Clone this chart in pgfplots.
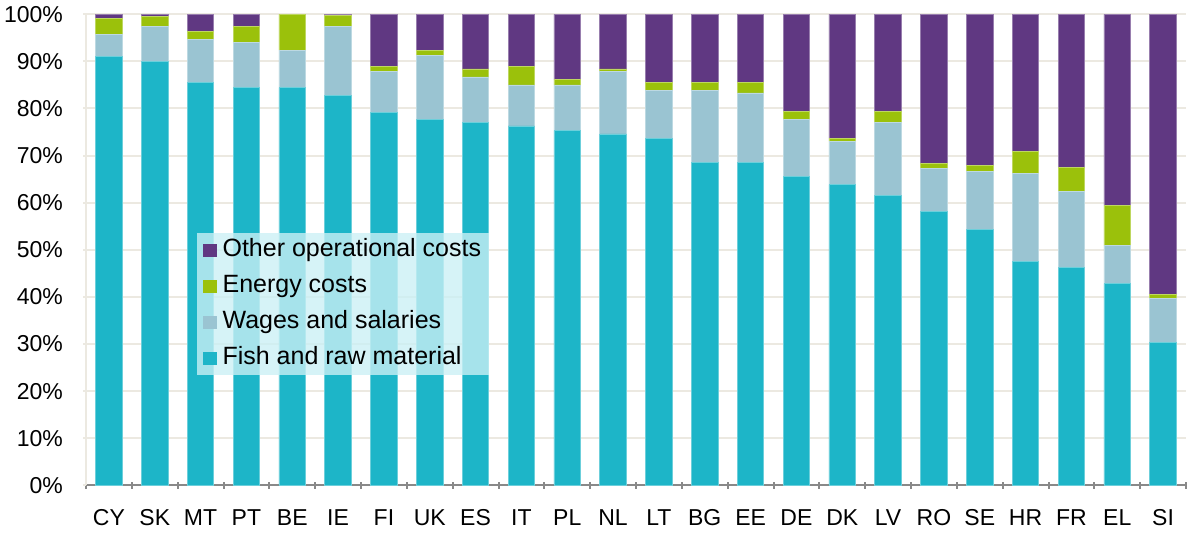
\documentclass[border=0pt]{standalone}
\usepackage{pgfplots}
\pgfplotsset{compat=1.18}
\usepackage{pgfplotstable}
\usepackage{fontspec}
\setmainfont{Liberation Sans}

\definecolor{fish}{HTML}{1DB5C8}
\definecolor{wages}{HTML}{9AC4D2}
\definecolor{energy}{HTML}{9BC10B}
\definecolor{other}{HTML}{603882}
\definecolor{gridc}{HTML}{ECE9E1}
\definecolor{xaxis}{HTML}{898989}
\definecolor{legfill}{HTML}{CBF0F5}

% shares of operating costs, % (stacked to 100)
\pgfplotstableread{
x  c   fish  wages energy other
0  CY  91.1  4.6   3.4    0.9
1  SK  89.9  7.5   2.1    0.5
2  MT  85.5  9.1   1.7    3.7
3  PT  84.4  9.7   3.4    2.5
4  BE  84.4  8.0   7.6    0.0
5  IE  82.7  14.7  2.3    0.3
6  FI  79.2  8.6   1.1    11.1
7  UK  77.6  13.6  1.2    7.6
8  ES  77.0  9.7   1.7    11.6
9  IT  76.3  8.7   3.9    11.1
10 PL  75.3  9.7   1.1    13.9
11 NL  74.6  13.2  0.6    11.6
12 LT  73.6  10.3  1.7    14.4
13 BG  68.5  15.4  1.7    14.4
14 EE  68.5  14.8  2.3    14.4
15 DE  65.5  12.1  1.7    20.7
16 DK  63.8  9.2   0.6    26.4
17 LV  61.6  15.4  2.3    20.7
18 RO  58.2  9.1   1.1    31.6
19 SE  54.3  12.4  1.3    32.0
20 HR  47.5  18.7  4.6    29.2
21 FR  46.2  16.1  5.1    32.6
22 EL  42.8  8.1   8.5    40.6
23 SI  30.4  9.2   1.0    59.4
}\costs

\begin{document}
\begin{tikzpicture}
\begin{axis}[
  name=ax,
  scale only axis, width=550pt, height=235.5pt,
  ybar stacked, bar width=13.3pt,
  xmin=-0.5, xmax=23.5, ymin=0, ymax=100,
  xtick=data, xticklabels from table={\costs}{c},
  minor xtick={-0.5,0.5,...,23.5},
  ytick={0,10,...,100},
  yticklabels={0\%,10\%,20\%,30\%,40\%,50\%,60\%,70\%,80\%,90\%,100\%},
  tick align=outside,
  major tick length=3pt, minor tick length=3.5pt,
  every major x tick/.style={draw=none},
  every minor x tick/.style={draw=xaxis, line width=1pt},
  every major y tick/.style={draw=gridc, line width=1pt},
  axis x line=bottom, axis y line=left,
  x axis line style={-, draw=xaxis, line width=1.2pt},
  y axis line style={-, draw=gridc, line width=1pt},
  ymajorgrids, major grid style={draw=gridc, line width=1pt},
  tick label style={font=\fontsize{11.5}{13}\selectfont},
  x tick label style={yshift=-7pt},
  y tick label style={xshift=-6.5pt},
  /pgf/number format/assume math mode=true,
  reverse legend,
  legend style={
    at={(rel axis cs:0.1009,0.5357)}, anchor=north west,
    draw=none, fill=legfill, fill opacity=0.79, text opacity=1,
    font=\fontsize{12.5}{14}\selectfont,
    inner xsep=3pt, inner ysep=2pt, row sep=5pt, column sep=2pt,
    nodes={inner sep=1pt, text height=8.5pt, text depth=2.5pt},
    cells={anchor=west},
  },
  legend image code/.code={
    \fill[#1, fill opacity=1, draw=none] (0pt,-3.3pt) rectangle (6.6pt,3.3pt);
  },
]
\addplot[fill=fish, draw=fish!65!white, line width=0.4pt] table[x=x, y=fish] {\costs};
\addplot[fill=wages, draw=wages!65!white, line width=0.4pt] table[x=x, y=wages] {\costs};
\addplot[fill=energy, draw=energy!65!white, line width=0.4pt] table[x=x, y=energy] {\costs};
\addplot[fill=other, draw=other!65!white, line width=0.4pt] table[x=x, y=other] {\costs};
\legend{Fish and raw material, Wages and salaries, Energy costs, Other operational costs}
\end{axis}
\pgfresetboundingbox
\path[use as bounding box] (ax.south west) ++(-43pt,-24.35pt) rectangle ++(596pt,267pt);
\end{tikzpicture}
\end{document}
